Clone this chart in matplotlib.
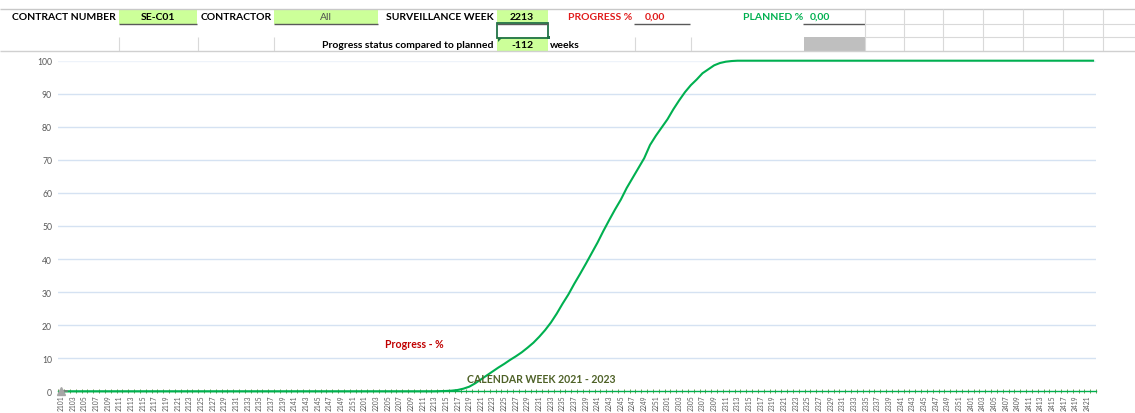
import matplotlib
matplotlib.use("Agg")
import matplotlib.pyplot as plt
from matplotlib.patches import Rectangle, Polygon

W, H = 1135, 414

# ---------------- data ----------------
YEARS = [21, 22, 23, 24]
WEEKS_PER_YEAR = [52, 52, 52, 22]
WEEKS = [f"{y}{w:02d}" for y, n in zip(YEARS, WEEKS_PER_YEAR) for w in range(1, n + 1)]

PLANNED_BEFORE = [0.0] * 65          # 2101 .. 2213
PLANNED_RISE = [                     # 2214 .. 2312
    0.05, 0.1, 0.2, 0.4, 0.8, 1.4, 2.4, 3.6, 4.8, 6.0,
    7.2, 8.3, 9.5, 10.6, 11.8, 13.2, 14.7, 16.5, 18.5, 20.8,
    23.5, 26.5, 29.3, 32.5, 35.5, 38.6, 41.8, 45.0, 48.5, 51.8,
    55.0, 58.0, 61.5, 64.5, 67.5, 70.5, 74.5, 77.3, 79.8, 82.3,
    85.3, 88.0, 90.5, 92.6, 94.3, 96.2, 97.4, 98.6, 99.3, 99.7,
    99.9,
]
PLANNED_AFTER = [100.0] * (len(WEEKS) - 65 - len(PLANNED_RISE))
PLANNED = PLANNED_BEFORE + PLANNED_RISE + PLANNED_AFTER

PROGRESS_WEEKS = ["2101", "2102"]
PROGRESS = [0.0, 0.0]

Y_TICKS = [0, 10, 20, 30, 40, 50, 60, 70, 80, 90, 100]

plt.rcParams['font.family'] = ['Lato', 'DejaVu Sans']

fig = plt.figure(figsize=(W / 100, H / 100), dpi=100)
fig.patch.set_facecolor('white')

# overlay axes in pixel coordinates for the spreadsheet header
ov = fig.add_axes([0, 0, 1, 1], zorder=0)
ov.set_xlim(0, W)
ov.set_ylim(H, 0)
ov.axis('off')

GREEN_FILL = '#CCFF99'
GRID = '#D9D9D9'

def hline(y, x0, x1, c=GRID, lw=0.8):
    ov.plot([x0, x1], [y, y], color=c, lw=lw, solid_capstyle='butt')

def vline(x, y0, y1, c=GRID, lw=0.8):
    ov.plot([x, x], [y0, y1], color=c, lw=lw, solid_capstyle='butt')

# top sheet line
hline(9.5, 0, W, c='#C8C8C8', lw=1.0)
# green cells
for (x, y, w, h) in [(119, 10, 78, 14.5), (274, 10, 104, 14.5), (497, 10, 51, 14.5), (497, 38, 51, 14)]:
    ov.add_patch(Rectangle((x, y), w, h, facecolor=GREEN_FILL, edgecolor='none'))
# grey cell
ov.add_patch(Rectangle((804, 38), 61, 14, facecolor='#BFBFBF', edgecolor='none'))
# underlines
for (x0, x1) in [(119, 197), (274, 378), (497, 548), (634, 690), (803, 865)]:
    hline(24.5, x0, x1, c='#595959', lw=1.0)
# light grid
for x in [118.5, 197.5, 273.5, 634.5, 690.5]:
    vline(x, 38, 52)
for x in [865, 904, 943, 983, 1023, 1063, 1103]:
    vline(x, 10, 52)
hline(25, 865, W)
hline(38, 865, W)
hline(52, 0, W, c='#D0D0D0', lw=1.0)
# selected cell
ov.add_patch(Rectangle((497, 24), 51, 14.5, facecolor='none', edgecolor='#217346', lw=1.3))
ov.add_patch(Rectangle((546.5, 36.5), 3.5, 3.5, facecolor='#217346', edgecolor='none'))
ov.add_patch(Polygon([(498, 39), (502, 39), (498, 43)], closed=True, facecolor='#217346', edgecolor='none'))

FS = 7.5
def t(x, y, s, ha='left', color='black', weight='bold', fs=FS):
    ov.text(x, y, s, ha=ha, va='center', color=color, fontweight=weight, fontsize=fs)

t(12, 17, 'CONTRACT NUMBER')
t(158, 17, 'SE-C01', ha='center')
t(201, 17, 'CONTRACTOR')
t(326, 17, 'All', ha='center', color='#505050', weight='normal')
t(494, 17, 'SURVEILLANCE WEEK', ha='right')
t(522, 17, '2213', ha='center')
t(632, 17, 'PROGRESS %', ha='right', color='#E01B1B')
t(655, 17, '0,00', ha='center', color='#E01B1B')
t(803, 17, 'PLANNED %', ha='right', color='#00B050')
t(820, 17, '0,00', ha='center', color='#00B050')
t(494, 45, 'Progress status compared to planned', ha='right')
t(522, 45, '-112', ha='center')
t(550, 45, 'weeks')

# ---------------- chart ----------------
left, right = 58.3, 1096.0
top, bottom = 61.7, 392.3
ax = fig.add_axes([left / W, (H - bottom) / H, (right - left) / W, (bottom - top) / H], zorder=2)
ax.set_facecolor('none')
n = len(WEEKS)
xs = list(range(n))
ax.set_xlim(-0.5, n - 0.5)
ax.set_ylim(0, 100)

for v in Y_TICKS[1:]:
    ax.axhline(v, color='#EEF3FA' if v == 100 else '#D5E2F2', lw=1.0, zorder=1)

ax.plot(xs, PLANNED, color='#00B050', lw=1.5, zorder=4, clip_on=False,
        solid_joinstyle='round')
pidx = [WEEKS.index(w) for w in PROGRESS_WEEKS]
ax.plot(pidx, PROGRESS, color='#7F7F7F', lw=1.2, zorder=5, clip_on=False)
ax.plot(pidx[:1], PROGRESS[:1], marker='^', color='#A6A6A6', ms=5.5, ls='none', zorder=6, clip_on=False)

for s in ['left', 'right', 'top']:
    ax.spines[s].set_visible(False)
ax.spines['bottom'].set_color('#00B050')
ax.spines['bottom'].set_linewidth(1.0)

ax.set_yticks(Y_TICKS)
ax.set_yticklabels([str(v) for v in Y_TICKS])
ax.tick_params(axis='y', length=0, pad=4.5, labelsize=6.2, labelcolor='#595959')

ax.set_xticks(xs[::2])
ax.set_xticklabels(WEEKS[::2], rotation=90)
ax.set_xticks([i + 0.5 for i in range(-1, n)], minor=True)
ax.tick_params(axis='x', which='major', length=0, pad=2.4, labelsize=4.9, labelcolor='#595959')
ax.tick_params(axis='x', which='minor', length=3.5, width=0.6, direction='inout', color='#5E8A3A')

fig.text(414 / W, 1 - 345 / H, 'Progress - %', ha='center', va='center', color='#C00000',
         fontweight='bold', fontsize=7.6, zorder=5)
fig.text(541.5 / W, 1 - 379.5 / H, 'CALENDAR WEEK 2021 - 2023', ha='center', va='center',
         color='#4F6228', fontweight='bold', fontsize=7.6, zorder=5)

fig.savefig('out.png', dpi=100, facecolor='white')
